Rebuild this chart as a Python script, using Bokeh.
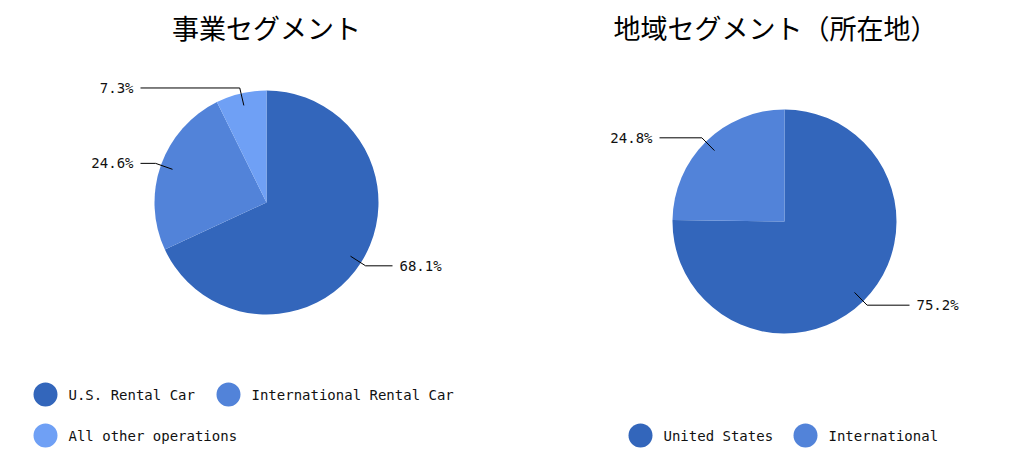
import math
from bokeh.plotting import figure
from bokeh.layouts import row
from bokeh.models import Range1d
from bokeh.core.properties import value
from bokeh.embed import file_html
from bokeh.resources import INLINE

# ---- data ----
left_title = "事業セグメント"
left_labels = ["U.S. Rental Car", "International Rental Car", "All other operations"]
left_values = [68.1, 24.6, 7.3]

right_title = "地域セグメント（所在地）"
right_labels = ["United States", "International"]
right_values = [75.2, 24.8]

colors = ["#3366bb", "#5283d9", "#6fa0f5"]

FONT = "DejaVu Sans Mono"
TFONT = "Noto Sans CJK JP"
H = 450


def make_pie(W, title, labels, values, cx, cy, r, title_x, label_off, legend_rows):
    p = figure(width=W, height=H, x_range=Range1d(0, W), y_range=Range1d(0, H),
               output_backend="svg", toolbar_location=None, min_border=0)
    p.axis.visible = False
    p.grid.visible = False
    p.outline_line_color = None

    total = sum(values)
    starts, ends = [], []
    cum = 0.0
    for v in values:
        starts.append(math.pi / 2 - 2 * math.pi * cum / total)
        cum += v
        ends.append(math.pi / 2 - 2 * math.pi * cum / total)
    p.wedge(x=cx, y=cy, radius=r, start_angle=starts, end_angle=ends,
            direction="clock", fill_color=colors[:len(values)], line_color=None)

    # leader lines and labels
    xs, ys, tx, ty, tt, ta = [], [], [], [], [], []
    for s, e, v in zip(starts, ends, values):
        mid = (s + e) / 2
        dx, dy = math.cos(mid), math.sin(mid)
        x0, y0 = cx + dx * r * 0.89, cy + dy * r * 0.89
        x1, y1 = cx + dx * r * 1.05, cy + dy * r * 1.05
        side = 1 if dx >= 0 else -1
        x2 = cx + side * (label_off - 7)
        xs.append([x0, x1, x2])
        ys.append([y0, y1, y1])
        tx.append(cx + side * label_off)
        ty.append(y1)
        tt.append(f"{v:.1f}%")
        ta.append("left" if side > 0 else "right")
    p.multi_line(xs=xs, ys=ys, line_color="black", line_width=1)
    p.text(x=tx, y=ty, text=tt, text_align=ta, text_baseline="middle",
           text_font=value(FONT), text_font_size="14px", text_color="#111111")

    # title
    p.text(x=[title_x], y=[H - 27], text=[title], text_align="center",
           text_baseline="middle", text_font=value(TFONT), text_font_size="27px",
           text_color="black")

    # legend
    lx, ly, lt, lc = [], [], [], []
    for i, lab in enumerate(labels):
        px, py = legend_rows[i]
        lx.append(px)
        ly.append(py)
        lt.append(lab)
        lc.append(colors[i])
    p.scatter(x=lx, y=ly, size=24, marker="circle", fill_color=lc, line_color=None)
    p.text(x=[x + 23 for x in lx], y=ly, text=lt, text_baseline="middle",
           text_font=value(FONT), text_font_size="14px", text_color="#111111")
    return p


# figure coords: x = page x (left) / page x - 508 (right), y_data = 450 - page y
left = make_pie(508, left_title, left_labels, left_values,
                cx=266, cy=248, r=112, title_x=266, label_off=133,
                legend_rows=[(45, 56), (228, 56), (45, 15)])
right = make_pie(500, right_title, right_labels, right_values,
                 cx=276, cy=229, r=112, title_x=267, label_off=132,
                 legend_rows=[(132, 15), (297, 15)])

layout = row(left, right, spacing=0)
open("out.html", "w").write(file_html(layout, INLINE))
